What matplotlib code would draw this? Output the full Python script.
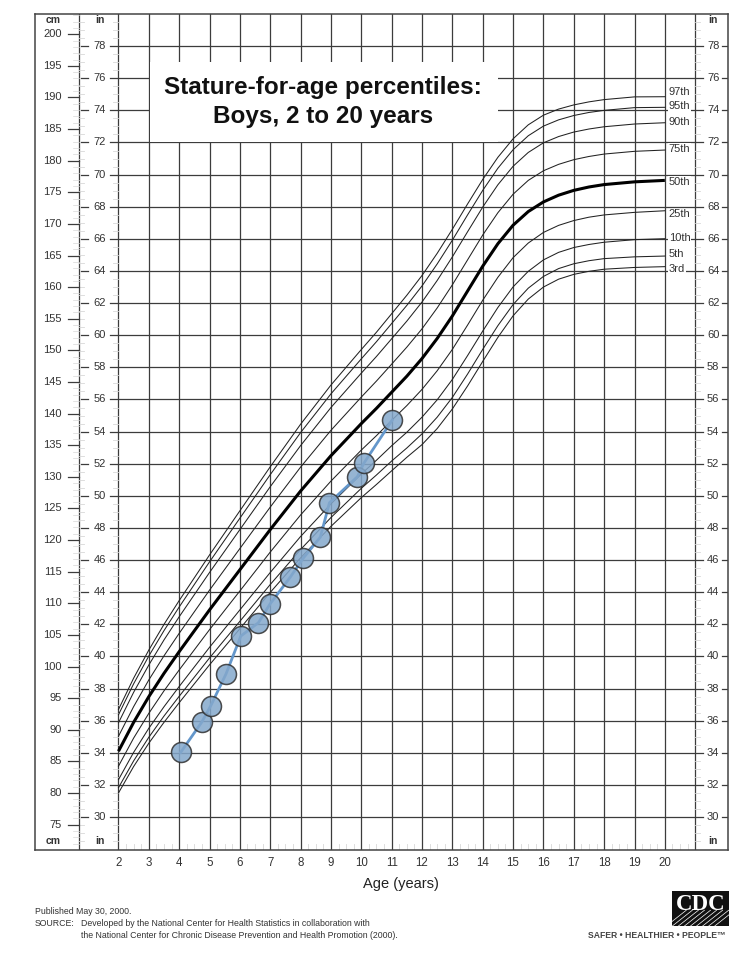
import numpy as np
import matplotlib
matplotlib.use('Agg')
import matplotlib.pyplot as plt
from matplotlib.patches import Rectangle

plt.rcParams['font.family'] = ['Liberation Sans', 'DejaVu Sans']

# ---- data (stature in inches) ----
AGES = [2, 2.5, 3, 3.5, 4, 5, 6, 7, 8, 9, 10, 10.5, 11, 11.5, 12, 12.5, 13, 13.5, 14,
        14.5, 15, 15.5, 16, 16.5, 17, 17.5, 18, 19, 20]
P3 = [31.50, 33.15, 34.60, 35.90, 37.12, 39.48, 41.73, 43.99, 46.14, 48.10, 49.89, 50.71, 51.56, 52.40,
      53.19, 54.19, 55.41, 56.84, 58.37, 59.87, 61.21, 62.25, 63.00, 63.49, 63.79, 63.98, 64.11, 64.22, 64.27]
P5 = [31.83, 33.50, 34.97, 36.29, 37.52, 39.91, 42.19, 44.48, 46.66, 48.65, 50.47, 51.30, 52.17, 52.98,
      53.86, 54.90, 56.13, 57.58, 59.12, 60.60, 61.91, 62.93, 63.66, 64.15, 64.45, 64.64, 64.77, 64.88, 64.93]
P10 = [32.33, 34.03, 35.53, 36.87, 38.13, 40.57, 42.90, 45.23, 47.47, 49.50, 51.36, 52.22, 53.12, 53.96,
       54.90, 55.98, 57.25, 58.73, 60.26, 61.73, 63.01, 63.98, 64.69, 65.16, 65.46, 65.65, 65.79, 65.95, 66.01]
P25 = [33.17, 34.92, 36.46, 37.86, 39.16, 41.67, 44.08, 46.50, 48.81, 50.92, 52.85, 53.75, 54.70, 55.62,
       56.63, 57.79, 59.12, 60.63, 62.18, 63.61, 64.83, 65.74, 66.40, 66.84, 67.14, 67.35, 67.49, 67.65, 67.75]
P50 = [34.10, 35.90, 37.50, 38.95, 40.30, 42.90, 45.40, 47.90, 50.30, 52.50, 54.50, 55.45, 56.45, 57.45,
       58.55, 59.80, 61.20, 62.75, 64.30, 65.70, 66.85, 67.70, 68.30, 68.72, 69.02, 69.23, 69.38, 69.55, 69.64]
P75 = [35.03, 36.88, 38.54, 40.04, 41.44, 44.13, 46.72, 49.30, 51.79, 54.08, 56.15, 57.15, 58.20, 59.26,
       60.40, 61.70, 63.14, 64.69, 66.24, 67.63, 68.78, 69.64, 70.24, 70.64, 70.93, 71.13, 71.28, 71.45, 71.53]
P90 = [35.87, 37.77, 39.47, 41.03, 42.47, 45.23, 47.90, 50.57, 53.13, 55.50, 57.64, 58.68, 59.78, 60.88,
       62.07, 63.41, 64.88, 66.44, 67.98, 69.37, 70.52, 71.38, 71.98, 72.37, 72.65, 72.84, 72.98, 73.15, 73.23]
P95 = [36.37, 38.30, 40.03, 41.61, 43.08, 45.89, 48.61, 51.32, 53.94, 56.35, 58.53, 59.60, 60.73, 61.86,
       63.07, 64.44, 65.92, 67.49, 69.02, 70.40, 71.55, 72.42, 73.02, 73.41, 73.68, 73.87, 74.00, 74.17, 74.19]
P97 = [36.70, 38.65, 40.40, 42.00, 43.48, 46.32, 49.07, 51.81, 54.46, 56.90, 59.11, 60.19, 61.34, 62.49,
       63.72, 65.10, 66.60, 68.17, 69.70, 71.08, 72.23, 73.10, 73.70, 74.08, 74.34, 74.53, 74.67, 74.84, 74.85]
CURVES = [P3, P5, P10, P25, P50, P75, P90, P95, P97]
CURVE_NAMES = ['3rd', '5th', '10th', '25th', '50th', '75th', '90th', '95th', '97th']
NAME_Y = [64.1, 65.06, 66.05, 67.55, 69.55, 71.62, 73.27, 74.26, 75.13]   # where the end labels sit

# measurements of the child
KID_AGE = [4.05, 4.74, 5.04, 5.54, 6.03, 6.61, 6.99, 7.66, 8.08, 8.65, 8.95, 9.87, 10.08, 11.02]
KID_IN = [34.03, 35.90, 36.93, 38.90, 41.27, 42.10, 43.26, 44.94, 46.10, 47.43, 49.57, 51.19, 52.02, 54.72]

CM_LABELS = list(range(75, 201, 5))
IN_LABELS = list(range(30, 79, 2))
AGE_LABELS = list(range(2, 21))

# ---- layout (x in years, y in inches) ----
X_LEFT, X_RIGHT = -0.75, 22.08
Y_BOT, Y_TOP = 27.95, 80.0
CM_SEP = 0.70
PLOT_R = 21.0
GRID = '#3c3c3c'
FAINT = '#d8d8d8'
TXT = '#333333'

fig = plt.figure(figsize=(7.5, 9.68), dpi=100)
ax = fig.add_axes([35 / 750, 118 / 968, 693 / 750, 836 / 968])
ax.set_xlim(X_LEFT, X_RIGHT)
ax.set_ylim(Y_BOT, Y_TOP)
for sp in ax.spines.values():
    sp.set_color('#444444')
    sp.set_linewidth(1.1)
ax.set_yticks([])
ax.set_xticks(AGE_LABELS)
ax.set_xticklabels([str(a) for a in AGE_LABELS], fontsize=8.3, color=TXT)
ax.tick_params(axis='x', length=0, pad=5)

# vertical grid / separators
for a in range(2, 22):
    ax.plot([a, a], [Y_BOT, Y_TOP], color=GRID, lw=0.9, zorder=1)
ax.plot([CM_SEP, CM_SEP], [Y_BOT, Y_TOP], color=GRID, lw=0.9, zorder=1)

# horizontal grid every 2 inches + inch labels both sides
for v in IN_LABELS:
    ax.plot([1.72, 21.26], [v, v], color=GRID, lw=0.9, zorder=1)
    ax.plot([0.75, 1.0], [v, v], color=GRID, lw=0.9, zorder=1)
    ax.plot([21.88, X_RIGHT], [v, v], color=GRID, lw=0.9, zorder=1)
    ax.text(1.39, v, str(v), ha='center', va='center', fontsize=8, color=TXT)
    ax.text(21.59, v, str(v), ha='center', va='center', fontsize=8, color=TXT)

# faint half-inch ticks
for k in np.arange(28.5, 80, 0.5):
    if k % 2 == 0:
        continue
    ax.plot([CM_SEP, 0.86], [k, k], color=FAINT, lw=0.6, zorder=1)
    ax.plot([1.82, 2.0], [k, k], color=FAINT, lw=0.6, zorder=1)
    ax.plot([PLOT_R, 21.16], [k, k], color=FAINT, lw=0.6, zorder=1)

# cm scale
for c in range(72, 204):
    y = c / 2.54
    if c in CM_LABELS:
        ax.plot([0.336, CM_SEP], [y, y], color=GRID, lw=0.9, zorder=1)
        ax.text(0.14, y, str(c), ha='right', va='center', fontsize=8, color=TXT)
    else:
        ax.plot([0.50, CM_SEP], [y, y], color=FAINT, lw=0.5, zorder=1)

# faint ticks along the bottom
for a in np.arange(2.25, 21, 0.25):
    if a % 1:
        ax.plot([a, a], [Y_BOT, 28.3], color=FAINT, lw=0.6, zorder=1)

for lab_y in (79.63, 28.5):
    ax.text(-0.16, lab_y, 'cm', ha='center', va='center', fontsize=7.5, fontweight='bold', color=TXT)
    ax.text(1.39, lab_y, 'in', ha='center', va='center', fontsize=7.5, fontweight='bold', color=TXT)
    ax.text(21.59, lab_y, 'in', ha='center', va='center', fontsize=7.5, fontweight='bold', color=TXT)

# title box
ax.add_patch(Rectangle((3.03, 72.06), 14.5 - 3.03, 77.03 - 72.06, fc='white', ec='none', zorder=2))
ax.text(8.74, 75.45, 'Stature-for-age percentiles:', ha='center', va='center',
        fontsize=17.5, fontweight='bold', color='#111111', zorder=5)
ax.text(8.74, 73.62, 'Boys, 2 to 20 years', ha='center', va='center',
        fontsize=17.5, fontweight='bold', color='#111111', zorder=5)

# percentile curves
for vals, name, ny in zip(CURVES, CURVE_NAMES, NAME_Y):
    if name == '50th':
        ax.plot(AGES, vals, color='black', lw=2.2, zorder=3, solid_capstyle='butt')
    else:
        ax.plot(AGES, vals, color='#222222', lw=0.75, zorder=3)
    ax.text(20.13, ny, name, ha='left', va='center', fontsize=8, color=TXT, zorder=4,
            bbox=dict(fc='white', ec='none', pad=0.3))

# child's measurements
ax.plot(KID_AGE, KID_IN, color='#6497cb', lw=2, zorder=6)
ax.scatter(KID_AGE, KID_IN, s=207, fc='#84a8cc', ec='#303030', lw=1.1, alpha=0.85, zorder=7)

fig.text(401 / 750, 1 - 884 / 968, 'Age (years)', ha='center', va='center', fontsize=10.5, color='#222222')

# footer
fig.text(35 / 750, 1 - 911 / 968, 'Published May 30, 2000.', fontsize=6.3, va='center', color=TXT)
fig.text(35 / 750, 1 - 923 / 968, 'SOURCE:', fontsize=6.3, va='center', color=TXT)
fig.text(81 / 750, 1 - 923 / 968,
         'Developed by the National Center for Health Statistics in collaboration with',
         fontsize=6.3, va='center', color=TXT)
fig.text(81 / 750, 1 - 935 / 968,
         'the National Center for Chronic Disease Prevention and Health Promotion (2000).',
         fontsize=6.3, va='center', color=TXT)

# CDC logo
lg = fig.add_axes([672 / 750, 42 / 968, 57 / 750, 35 / 968])
lg.set_facecolor('#111111')
lg.set_xlim(0, 1)
lg.set_ylim(0, 1)
lg.set_xticks([])
lg.set_yticks([])
for sp in lg.spines.values():
    sp.set_visible(False)
for t in np.linspace(0.15, 1.0, 9):
    lg.plot([t - 0.25, t + 0.1], [0.0, 0.45], color='white', lw=0.5)
lg.text(0.5, 0.6, 'CDC', ha='center', va='center', fontsize=16.5, fontweight='bold',
        family='Liberation Serif', color='white')
fig.text(657 / 750, 1 - 935 / 968, 'SAFER \u2022 HEALTHIER \u2022 PEOPLE\u2122', ha='center', va='center',
         fontsize=6.2, fontweight='bold', color='#444444')

fig.savefig('out.png', dpi=100)
